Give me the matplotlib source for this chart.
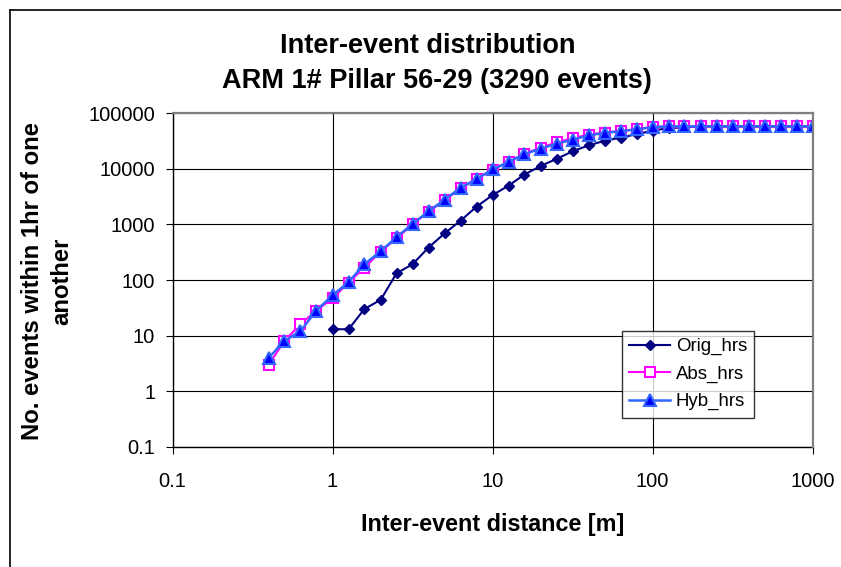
import matplotlib
matplotlib.use("Agg")
import matplotlib.pyplot as plt
from matplotlib.lines import Line2D
from matplotlib.ticker import FixedLocator, FuncFormatter, NullLocator

plt.rcParams['font.family'] = ['Liberation Sans', 'DejaVu Sans']

# inter-event distance bins [m]
distance = [0.4, 0.5, 0.63, 0.79, 1, 1.26, 1.58, 2, 2.51, 3.16, 3.98, 5.01, 6.31, 7.94,
            10, 12.6, 15.8, 20, 25.1, 31.6, 39.8, 50.1, 63.1, 79.4,
            100, 126, 158, 200, 251, 316, 398, 501, 631, 794, 1000]

# Orig_hrs only starts at 1 m
orig_hrs = [13, 13, 30, 44, 132, 192, 384, 690, 1170, 2090,
            3380, 5000, 7900, 11300, 15100, 20700, 26500, 32000, 36500, 42000,
            49000, 54000, 56000, 58000, 58000, 58000, 58000, 58000, 58000, 58000, 58000]

abs_hrs = [3, 8, 16, 28, 47, 90, 167, 325, 560, 1000, 1700, 2700, 4500, 6500,
           9700, 13300, 18800, 24000, 30000, 35500, 41500, 45000, 48000, 52000,
           57000, 58000, 58000, 58000, 58000, 58000, 58000, 58000, 58000, 58000, 58000]

hyb_hrs = [4, 8, 12, 28, 53, 92, 192, 330, 590, 1020, 1720, 2800, 4550, 6600,
           9800, 13300, 18500, 23000, 28500, 33500, 40000, 44500, 47500, 51500,
           56500, 58000, 58000, 58000, 58000, 58000, 58000, 58000, 58000, 58000, 58000]

x_ticks = [0.1, 1, 10, 100, 1000]
y_ticks = [0.1, 1, 10, 100, 1000, 10000, 100000]

fig = plt.figure(figsize=(8.41, 5.67), dpi=100)
ax = fig.add_axes([172.5 / 841, 1 - 446.7 / 567, (812.7 - 172.5) / 841, (446.7 - 113.3) / 567])

ax.plot(distance[4:], orig_hrs, color='#000080', lw=1.5, marker='D', ms=5.3,
        mfc='#000080', mec='#000080', label='Orig_hrs', zorder=3)
ax.plot(distance, abs_hrs, color='#ff00ff', lw=1.5, marker='s', ms=6.5,
        mfc='white', mec='#ff00ff', mew=1.5, label='Abs_hrs', zorder=4)
ax.plot(distance, hyb_hrs, color='#3366ff', lw=1.8, marker='^', ms=8,
        mfc='#0000ff', mec='#3366ff', mew=1.5, label='Hyb_hrs', zorder=5)

ax.set_xscale('log')
ax.set_yscale('log')
ax.set_xlim(0.1, 1000)
ax.set_ylim(0.1, 100000)

fmt = FuncFormatter(lambda v, p: '{:g}'.format(v))
ax.xaxis.set_major_locator(FixedLocator(x_ticks))
ax.yaxis.set_major_locator(FixedLocator(y_ticks))
ax.xaxis.set_major_formatter(fmt)
ax.yaxis.set_major_formatter(fmt)
ax.xaxis.set_minor_locator(NullLocator())
ax.yaxis.set_minor_locator(NullLocator())

ax.tick_params(axis='both', direction='out', length=5, width=0.8, colors='black', labelsize=14.5)
ax.tick_params(axis='x', pad=13)
ax.tick_params(axis='y', pad=7.5)

ax.grid(True, which='major', color='black', linewidth=0.8)
ax.set_axisbelow(True)

for side in ['left', 'bottom']:
    ax.spines[side].set_color('black')
    ax.spines[side].set_linewidth(1.0)
for side in ['top', 'right']:
    ax.spines[side].set_color('#808080')
    ax.spines[side].set_linewidth(1.6)
    ax.spines[side].set_zorder(6)

fig.text(428 / 841, 1 - 46 / 567, 'Inter-event distribution', ha='center', va='center',
         fontsize=19.5, fontweight='bold')
fig.text(437 / 841, 1 - 81 / 567, 'ARM 1# Pillar 56-29 (3290 events)', ha='center', va='center',
         fontsize=19.5, fontweight='bold')

fig.text(492.6 / 841, 1 - 525 / 567, 'Inter-event distance [m]', ha='center', va='center',
         fontsize=16.8, fontweight='bold')
fig.text(47 / 841, 1 - 281 / 567, 'No. events within 1hr of one\nanother', ha='center', va='center',
         rotation=90, multialignment='center', fontsize=17.2, fontweight='bold', linespacing=1.35)

leg = ax.legend(loc='upper left', bbox_to_anchor=(621.7 / 841, 1 - 330.7 / 567),
                bbox_transform=fig.transFigure, fontsize=13.4, frameon=True, fancybox=False,
                edgecolor='black', borderpad=0.4, labelspacing=0.55, handlelength=2.2,
                handletextpad=0.3, borderaxespad=0)
leg.get_frame().set_linewidth(1.0)
leg.set_zorder(10)

# chart area border (left and top edges)
fig.add_artist(Line2D([10 / 841, 10 / 841], [0, 1 - 10 / 567], color='black', lw=1.2,
                      transform=fig.transFigure))
fig.add_artist(Line2D([10 / 841, 1], [1 - 10 / 567, 1 - 10 / 567], color='black', lw=1.2,
                      transform=fig.transFigure))

fig.savefig('out.png', dpi=100)
